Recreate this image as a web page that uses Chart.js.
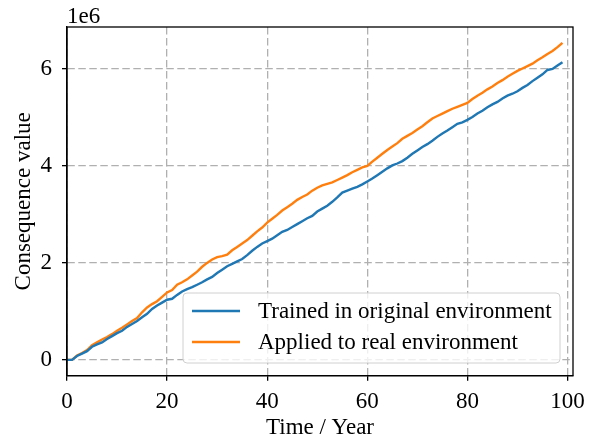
<!DOCTYPE html>
<html>
<head>
<meta charset="utf-8">
<script src="https://cdn.jsdelivr.net/npm/chart.js@4.4.1/dist/chart.umd.min.js"></script>
<style>
  html, body { margin: 0; padding: 0; background: #fff; }
  #wrap { width: 592px; height: 441px; position: relative; }
</style>
</head>
<body>
<div id="wrap"><canvas id="chart"></canvas></div>
<script>
const years = [
  0, 1, 2, 3, 4, 5, 6, 7, 8, 9, 10, 11, 12, 13, 14, 15, 16, 17, 18, 19,
  20, 21, 22, 23, 24, 25, 26, 27, 28, 29, 30, 31, 32, 33, 34, 35, 36, 37, 38, 39,
  40, 41, 42, 43, 44, 45, 46, 47, 48, 49, 50, 51, 52, 53, 54, 55, 56, 57, 58, 59,
  60, 61, 62, 63, 64, 65, 66, 67, 68, 69, 70, 71, 72, 73, 74, 75, 76, 77, 78, 79,
  80, 81, 82, 83, 84, 85, 86, 87, 88, 89, 90, 91, 92, 93, 94, 95, 96, 97, 98, 99
];

// values in units of 1e6
const trainedOriginal = [
  0.00, 0.00, 0.08, 0.13, 0.18, 0.27, 0.32, 0.36, 0.43, 0.49,
  0.55, 0.60, 0.68, 0.74, 0.80, 0.88, 0.95, 1.05, 1.12, 1.18,
  1.24, 1.26, 1.34, 1.41, 1.46, 1.50, 1.55, 1.60, 1.66, 1.71,
  1.79, 1.86, 1.93, 1.98, 2.03, 2.08, 2.16, 2.25, 2.33, 2.40,
  2.45, 2.50, 2.57, 2.64, 2.68, 2.74, 2.80, 2.86, 2.92, 2.97,
  3.06, 3.12, 3.18, 3.26, 3.35, 3.45, 3.49, 3.53, 3.57, 3.62,
  3.68, 3.74, 3.81, 3.88, 3.95, 4.01, 4.05, 4.10, 4.17, 4.25,
  4.32, 4.39, 4.45, 4.52, 4.60, 4.67, 4.73, 4.80, 4.87, 4.90,
  4.95, 5.01, 5.08, 5.14, 5.21, 5.27, 5.32, 5.39, 5.45, 5.49,
  5.54, 5.61, 5.67, 5.75, 5.82, 5.89, 5.98, 6.00, 6.07, 6.14
];

const appliedReal = [
  0.00, 0.00, 0.09, 0.14, 0.20, 0.30, 0.36, 0.42, 0.47, 0.53,
  0.60, 0.66, 0.73, 0.80, 0.86, 0.98, 1.08, 1.15, 1.21, 1.30,
  1.39, 1.44, 1.55, 1.60, 1.66, 1.74, 1.82, 1.92, 2.00, 2.07,
  2.12, 2.14, 2.17, 2.26, 2.33, 2.40, 2.47, 2.56, 2.65, 2.73,
  2.83, 2.91, 2.99, 3.08, 3.15, 3.22, 3.30, 3.36, 3.41, 3.49,
  3.55, 3.60, 3.63, 3.66, 3.71, 3.76, 3.81, 3.87, 3.92, 3.97,
  4.00, 4.09, 4.17, 4.25, 4.33, 4.40, 4.47, 4.56, 4.62, 4.68,
  4.75, 4.82, 4.90, 4.98, 5.03, 5.08, 5.13, 5.18, 5.22, 5.26,
  5.30, 5.38, 5.45, 5.51, 5.58, 5.64, 5.71, 5.77, 5.84, 5.90,
  5.96, 6.01, 6.06, 6.11, 6.18, 6.24, 6.31, 6.37, 6.45, 6.54
];

const seriesLabels = ["Trained in original environment", "Applied to real environment"];
const seriesColors = ["#1f77b4", "#ff7f0e"];
const xTicks = [0, 20, 40, 60, 80, 100];
const yTicks = [0, 2, 4, 6];

const FONT = "'Liberation Serif', 'Times New Roman', serif";
const gridDash = [7.5, 3.5];

function toPoints(values) {
  return values.map((v, i) => ({ x: years[i], y: v }));
}

// axes frame, "1e6" offset text and the legend box
const framePlugin = {
  id: "frame",
  afterDatasetsDraw(chart) {
    const { ctx, chartArea: a } = chart;
    ctx.save();

    // legend
    const lx = 183, ly = 293, lw = 377, lh = 70, r = 4;
    ctx.beginPath();
    ctx.roundRect(lx, ly, lw, lh, r);
    ctx.fillStyle = "rgba(255,255,255,0.8)";
    ctx.fill();
    ctx.strokeStyle = "#d0d0d0";
    ctx.lineWidth = 1;
    ctx.stroke();

    const rows = [311, 342];
    ctx.font = `23px ${FONT}`;
    ctx.textBaseline = "middle";
    ctx.textAlign = "left";
    rows.forEach((y, i) => {
      ctx.beginPath();
      ctx.moveTo(192, y);
      ctx.lineTo(240, y);
      ctx.strokeStyle = seriesColors[i];
      ctx.lineWidth = 2.4;
      ctx.stroke();
      ctx.fillStyle = "#000";
      ctx.fillText(seriesLabels[i], 258, y + 1);
    });

    // frame
    ctx.strokeStyle = "#000";
    ctx.lineWidth = 1.3;
    ctx.strokeRect(a.left, a.top, a.right - a.left, a.bottom - a.top);

    // offset text
    ctx.font = `23px ${FONT}`;
    ctx.fillStyle = "#000";
    ctx.textAlign = "left";
    ctx.textBaseline = "alphabetic";
    ctx.fillText("1e6", a.left, a.top - 4);
    ctx.restore();
  }
};

new Chart(document.getElementById("chart"), {
  type: "line",
  data: {
    datasets: [
      {
        label: seriesLabels[0],
        data: toPoints(trainedOriginal),
        borderColor: seriesColors[0],
        borderWidth: 2.4,
        pointRadius: 0,
        tension: 0,
      },
      {
        label: seriesLabels[1],
        data: toPoints(appliedReal),
        borderColor: seriesColors[1],
        borderWidth: 2.4,
        pointRadius: 0,
        tension: 0,
      },
    ],
  },
  options: {
    responsive: true,
    maintainAspectRatio: false,
    animation: false,
    layout: { padding: { top: 27, right: 19, left: 0, bottom: 0 } },
    plugins: {
      legend: { display: false },
      tooltip: { enabled: false },
    },
    scales: {
      x: {
        type: "linear",
        min: 0,
        max: 101.1,
        afterBuildTicks: (s) => { s.ticks = xTicks.map(v => ({ value: v })); },
        afterFit: (s) => { s.height = 65.3; },
        ticks: {
          color: "#000",
          font: { family: FONT, size: 23 },
          padding: 7,
          maxRotation: 0,
        },
        grid: {
          color: "#b0b0b0",
          lineWidth: 1.3,
          tickLength: 5,
          tickColor: "#000",
          tickWidth: 1.3,
          tickBorderDash: [],
        },
        border: { display: true, color: "#000", width: 1.3, dash: gridDash },
        title: {
          display: true,
          text: "Time / Year",
          color: "#000",
          font: { family: FONT, size: 23, lineHeight: 1.1 },
          padding: { top: 0, bottom: 0 },
        },
      },
      y: {
        min: -0.327,
        max: 6.866,
        afterBuildTicks: (s) => { s.ticks = yTicks.map(v => ({ value: v })); },
        afterFit: (s) => { s.width = 67; },
        ticks: {
          color: "#000",
          font: { family: FONT, size: 23 },
          padding: 10,
        },
        grid: {
          color: "#b0b0b0",
          lineWidth: 1.3,
          tickLength: 5,
          tickColor: "#000",
          tickWidth: 1.3,
          tickBorderDash: [],
        },
        border: { display: true, color: "#000", width: 1.3, dash: gridDash },
        title: {
          display: true,
          text: "Consequence value",
          color: "#000",
          font: { family: FONT, size: 23 },
          padding: { top: 10, bottom: 0 },
        },
      },
    },
  },
  plugins: [framePlugin],
});
</script>
</body>
</html>
